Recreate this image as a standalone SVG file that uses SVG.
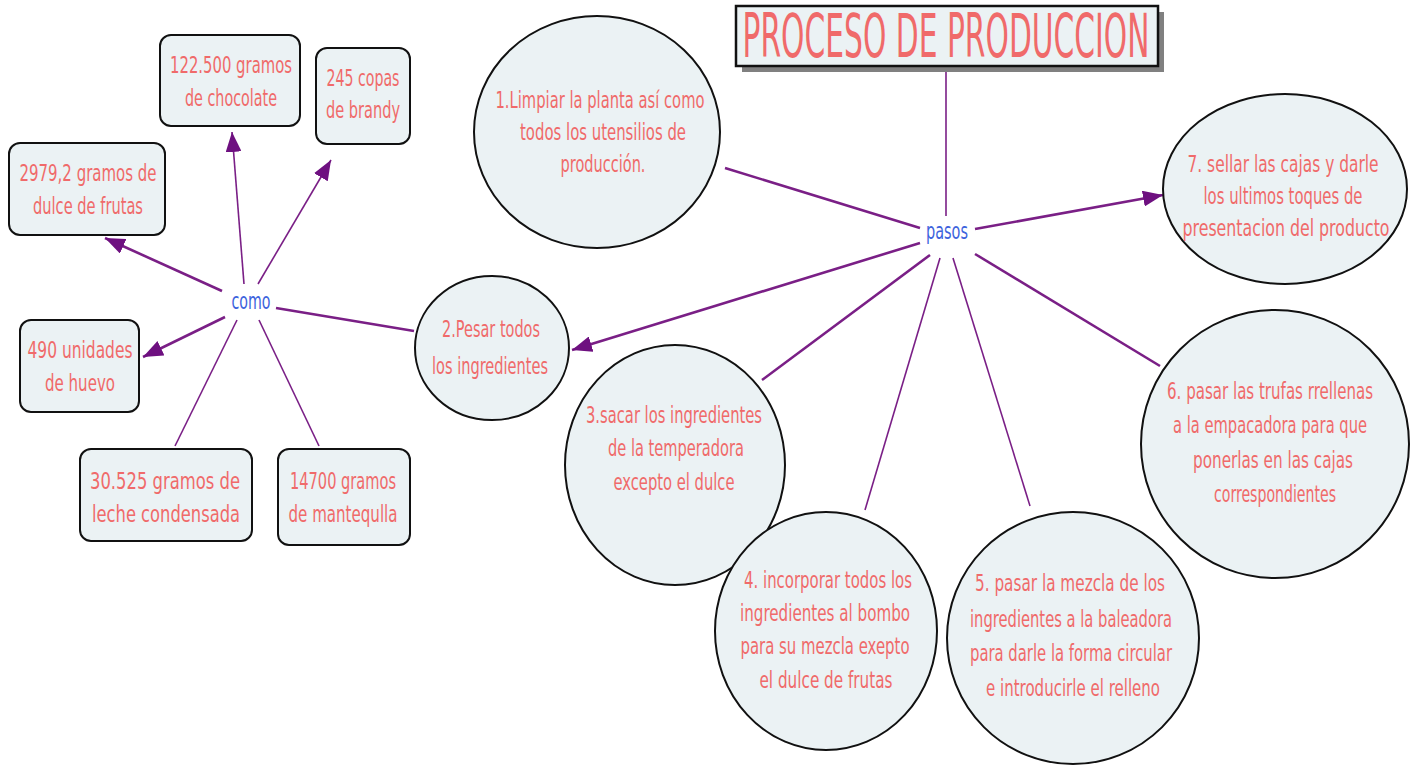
<svg xmlns="http://www.w3.org/2000/svg" width="1411" height="766" viewBox="0 0 1411 766">
<style>
.t{font-family:"DejaVu Sans","Liberation Sans",sans-serif;font-size:23px;fill:#f06a6a;text-anchor:middle;}
.lk{font-family:"DejaVu Sans","Liberation Sans",sans-serif;font-size:23px;fill:#3d63dd;text-anchor:middle;}
.nd{fill:#ebf2f4;stroke:#111;stroke-width:2;}
.c{stroke:#7a1f86;fill:none;}
.thick{stroke-width:2.6;}
.thin{stroke-width:1.6;}
</style>
<defs>
<marker id="ar" viewBox="0 0 20 16" refX="20" refY="8" markerWidth="20" markerHeight="16" markerUnits="userSpaceOnUse" orient="auto">
<path d="M0,0 L20,8 L0,16 z" fill="#6e1080"/>
</marker>
</defs>
<rect width="1411" height="766" fill="#ffffff"/>

<g id="connectors">
<line class="c thin" x1="946" y1="66" x2="946" y2="216"/>
<line class="c thick" x1="725" y1="168" x2="920" y2="228"/>
<line class="c thick" x1="975" y1="229" x2="1163" y2="195" marker-end="url(#ar)"/>
<line class="c thick" x1="920" y1="243" x2="572" y2="350" marker-end="url(#ar)"/>
<line class="c thick" x1="930" y1="255" x2="762" y2="380"/>
<line class="c thin" x1="940" y1="258" x2="865" y2="510"/>
<line class="c thin" x1="953" y1="258" x2="1030" y2="506"/>
<line class="c thick" x1="975" y1="254" x2="1160" y2="366"/>
<line class="c thick" x1="414" y1="331" x2="276" y2="308"/>
<line class="c thin" x1="244" y1="284" x2="232" y2="132" marker-end="url(#ar)"/>
<line class="c thin" x1="258" y1="284" x2="331" y2="160" marker-end="url(#ar)"/>
<line class="c thick" x1="222" y1="291" x2="105" y2="238" marker-end="url(#ar)"/>
<line class="c thick" x1="225" y1="317" x2="143" y2="357" marker-end="url(#ar)"/>
<line class="c thin" x1="237" y1="320" x2="175" y2="446"/>
<line class="c thin" x1="259" y1="320" x2="319" y2="446"/>
</g>

<g id="title">
<rect x="742" y="12" width="422" height="60" fill="#808080"/>
<rect x="736" y="6" width="422" height="60" fill="#ebf2f4" stroke="#111" stroke-width="2.5"/>
<text x="946" y="57" class="t" style="font-size:60px" textLength="407" lengthAdjust="spacingAndGlyphs">PROCESO DE PRODUCCION</text>
</g>

<g id="pasos"><text x="947" y="239" class="lk" textLength="42" lengthAdjust="spacingAndGlyphs">pasos</text></g>
<g id="como"><text x="251" y="309" class="lk" textLength="39" lengthAdjust="spacingAndGlyphs">como</text></g>

<g id="paso1">
<ellipse class="nd" cx="597" cy="132" rx="123" ry="116"/>
<text class="t" x="600" y="108" textLength="209" lengthAdjust="spacingAndGlyphs">1.Limpiar la planta así como</text>
<text class="t" x="603" y="140" textLength="166" lengthAdjust="spacingAndGlyphs">todos los utensilios de</text>
<text class="t" x="603" y="172" textLength="85" lengthAdjust="spacingAndGlyphs">producción.</text>
</g>

<g id="paso7">
<ellipse class="nd" cx="1285" cy="189" rx="122" ry="95"/>
<text class="t" x="1283" y="172" textLength="191" lengthAdjust="spacingAndGlyphs">7. sellar las cajas y darle</text>
<text class="t" x="1283" y="204" textLength="159" lengthAdjust="spacingAndGlyphs">los ultimos toques de</text>
<text class="t" x="1286" y="236" textLength="207" lengthAdjust="spacingAndGlyphs">presentacion del producto</text>
</g>

<g id="paso2">
<ellipse class="nd" cx="492" cy="348" rx="77" ry="72"/>
<text class="t" x="491" y="337" textLength="98" lengthAdjust="spacingAndGlyphs">2.Pesar todos</text>
<text class="t" x="490" y="374" textLength="116" lengthAdjust="spacingAndGlyphs">los ingredientes</text>
</g>

<g id="paso3">
<ellipse class="nd" cx="675" cy="465" rx="110" ry="120"/>
<text class="t" x="674" y="423" textLength="176" lengthAdjust="spacingAndGlyphs">3.sacar los ingredientes</text>
<text class="t" x="676" y="456" textLength="136" lengthAdjust="spacingAndGlyphs">de la temperadora</text>
<text class="t" x="674" y="490" textLength="121" lengthAdjust="spacingAndGlyphs">excepto el dulce</text>
</g>

<g id="paso4">
<ellipse class="nd" cx="826" cy="631" rx="111" ry="119"/>
<text class="t" x="828" y="588" textLength="168" lengthAdjust="spacingAndGlyphs">4. incorporar todos los</text>
<text class="t" x="825" y="621" textLength="170" lengthAdjust="spacingAndGlyphs">ingredientes al bombo</text>
<text class="t" x="825" y="654" textLength="169" lengthAdjust="spacingAndGlyphs">para su mezcla exepto</text>
<text class="t" x="826" y="688" textLength="133" lengthAdjust="spacingAndGlyphs">el dulce de frutas</text>
</g>

<g id="paso5">
<ellipse class="nd" cx="1073" cy="638" rx="126" ry="126"/>
<text class="t" x="1070" y="591" textLength="190" lengthAdjust="spacingAndGlyphs">5. pasar la mezcla de los</text>
<text class="t" x="1071" y="627" textLength="202" lengthAdjust="spacingAndGlyphs">ingredientes a la baleadora</text>
<text class="t" x="1071" y="661" textLength="202" lengthAdjust="spacingAndGlyphs">para darle la forma circular</text>
<text class="t" x="1073" y="696" textLength="174" lengthAdjust="spacingAndGlyphs">e introducirle el relleno</text>
</g>

<g id="paso6">
<ellipse class="nd" cx="1275" cy="444" rx="134" ry="134"/>
<text class="t" x="1270" y="399" textLength="206" lengthAdjust="spacingAndGlyphs">6. pasar las trufas rrellenas</text>
<text class="t" x="1270" y="433" textLength="194" lengthAdjust="spacingAndGlyphs">a la empacadora para que</text>
<text class="t" x="1273" y="468" textLength="160" lengthAdjust="spacingAndGlyphs">ponerlas en las cajas</text>
<text class="t" x="1275" y="502" textLength="122" lengthAdjust="spacingAndGlyphs">correspondientes</text>
</g>

<g id="chocolate">
<rect class="nd" x="160" y="35" width="140" height="91" rx="11"/>
<text class="t" x="231" y="73" textLength="122" lengthAdjust="spacingAndGlyphs">122.500 gramos</text>
<text class="t" x="231" y="106" textLength="92" lengthAdjust="spacingAndGlyphs">de chocolate</text>
</g>

<g id="brandy">
<rect class="nd" x="316" y="48" width="94" height="96" rx="11"/>
<text class="t" x="363" y="86" textLength="73" lengthAdjust="spacingAndGlyphs">245 copas</text>
<text class="t" x="363" y="118" textLength="74" lengthAdjust="spacingAndGlyphs">de brandy</text>
</g>

<g id="frutas">
<rect class="nd" x="9" y="143" width="156" height="92" rx="11"/>
<text class="t" x="88" y="181" textLength="137" lengthAdjust="spacingAndGlyphs">2979,2 gramos de</text>
<text class="t" x="88" y="214" textLength="110" lengthAdjust="spacingAndGlyphs">dulce de frutas</text>
</g>

<g id="huevo">
<rect class="nd" x="20" y="320" width="119" height="92" rx="11"/>
<text class="t" x="80" y="358" textLength="105" lengthAdjust="spacingAndGlyphs">490 unidades</text>
<text class="t" x="80" y="391" textLength="70" lengthAdjust="spacingAndGlyphs">de huevo</text>
</g>

<g id="leche">
<rect class="nd" x="80" y="449" width="172" height="92" rx="11"/>
<text class="t" x="165" y="489" textLength="150" lengthAdjust="spacingAndGlyphs">30.525 gramos de</text>
<text class="t" x="166" y="522" textLength="148" lengthAdjust="spacingAndGlyphs">leche condensada</text>
</g>

<g id="mantequilla">
<rect class="nd" x="278" y="449" width="132" height="96" rx="11"/>
<text class="t" x="343" y="489" textLength="106" lengthAdjust="spacingAndGlyphs">14700 gramos</text>
<text class="t" x="343" y="522" textLength="109" lengthAdjust="spacingAndGlyphs">de mantequlla</text>
</g>
</svg>
